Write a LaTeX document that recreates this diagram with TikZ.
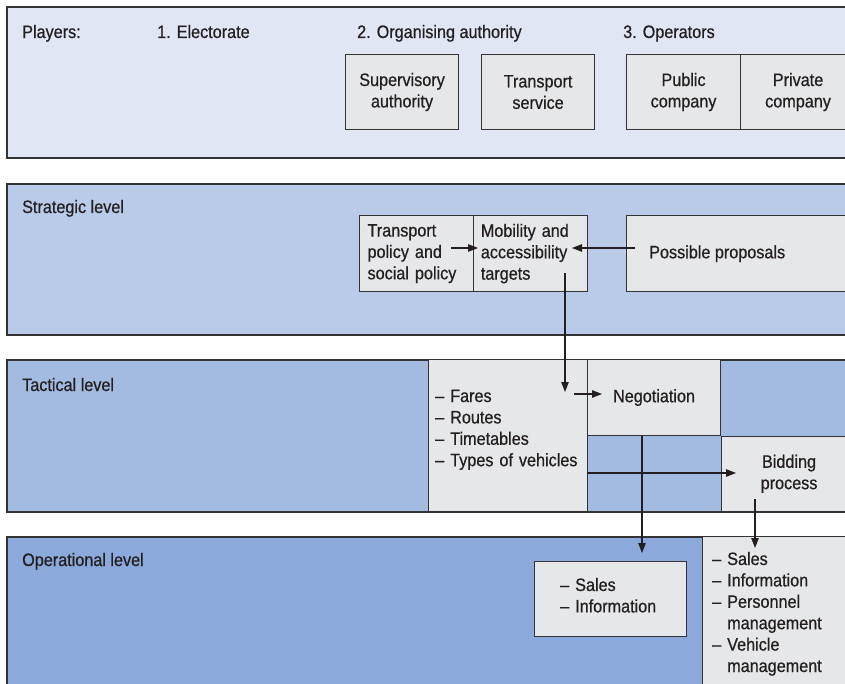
\documentclass[tikz,border=0pt]{standalone}
\usepackage{fontspec}
\setmainfont{Liberation Sans}[FakeStretch=0.9,FakeBold=0.6]
\usetikzlibrary{arrows.meta}
\definecolor{bandA}{HTML}{E0E6F4}
\definecolor{bandB}{HTML}{BACBEA}
\definecolor{bandC}{HTML}{A3BAE1}
\definecolor{bandD}{HTML}{8BA9DA}
\definecolor{boxgray}{HTML}{E6E7E9}
\definecolor{ink}{HTML}{231F20}
\definecolor{edge}{HTML}{333333}
\tikzset{
  band/.style={draw=edge, line width=2pt, anchor=north west, inner sep=0pt},
  gbox/.style={draw=edge, line width=1.1pt, fill=boxgray, anchor=north west, inner sep=0pt, text=ink},
  lbl/.style={anchor=base west, inner sep=0pt, text=ink},
  arr/.style={draw=ink, line width=1.2pt, -{Triangle[length=10pt,width=7.5pt]}},
}
\begin{document}
\begin{tikzpicture}[x=1pt, y=-1pt, font=\fontsize{18}{21.4}\selectfont]
\useasboundingbox (0,0) rectangle (845,684);

% ---------- Players ----------
\node[band, fill=bandA, minimum width=846pt, minimum height=151pt] (players) at (6,6) {};
\node[lbl] (plabel) at (22,38) {Players:};
\node[lbl] (elect) at (157,38) {1. Electorate};
\node[lbl] (org) at (357,38) {2. Organising authority};
\node[lbl] (ops) at (623,38) {3. Operators};
\node[gbox, minimum width=113pt, minimum height=75pt, align=center] (sup) at (345,54) {Supervisory\\authority};
\node[gbox, minimum width=113pt, minimum height=75pt, align=center] (trs) at (481,54) {Transport\\service};
\node[gbox, minimum width=114pt, minimum height=75pt, align=center] (pub) at (626,54) {Public\\company};
\node[gbox, minimum width=115pt, minimum height=75pt, align=center] (pri) at (740,54) {Private\\company};

% ---------- Strategic ----------
\node[band, fill=bandB, minimum width=846pt, minimum height=151pt] (strat) at (6,183) {};
\node[lbl] (slabel) at (22,213) {Strategic level};
\node[gbox, minimum width=114pt, minimum height=75.5pt, text width=98pt, inner xsep=8pt, align=left] (tp) at (359,215.3) {Transport\\policy and\\social policy};
\node[gbox, minimum width=113.5pt, minimum height=75.5pt, text width=99.5pt, inner xsep=7pt, align=left] (mob) at (473.3,215.3) {Mobility and\\accessibility\\targets};
\node[gbox, minimum width=230pt, minimum height=75.5pt] (pp) at (626,215.3) {};
\node[lbl] (pptext) at (649,258.3) {Possible proposals};

% ---------- Tactical ----------
\node[band, fill=bandC, minimum width=846pt, minimum height=151.5pt] (tact) at (6,359) {};
\node[lbl] (tlabel) at (22,391) {Tactical level};
\node[gbox, minimum width=159pt, minimum height=151.5pt] (fares) at (428,359) {};
\node[lbl, text width=150pt, align=left] (farestext) at (435,402) {– Fares\\– Routes\\– Timetables\\– Types of vehicles};
\node[gbox, minimum width=133pt, minimum height=76pt] (neg) at (587,359) {Negotiation};
\node[gbox, minimum width=135pt, minimum height=74.5pt, align=center] (bid) at (721,436) {Bidding\\process};

% ---------- Operational ----------
\node[band, fill=bandD, minimum width=846pt, minimum height=160pt] (oper) at (6,536) {};
\node[lbl] (olabel) at (22,566) {Operational level};
\node[gbox, minimum width=152pt, minimum height=75pt] (sales) at (534,561) {};
\node[lbl, text width=110pt, align=left] (salestext) at (560,591) {– Sales\\– Information};
\node[gbox, minimum width=160pt, minimum height=160pt] (opbox) at (702,536) {};
\node[lbl, text width=140pt, align=left] (optext) at (712,565) {– Sales\\– Information\\– Personnel\\\phantom{– }management\\– Vehicle\\\phantom{– }management};

% ---------- connectors ----------
\coordinate (tpA) at (451,248);
\coordinate (mobA) at (478,248);
\coordinate (ppA) at (635,248);
\coordinate (mobB) at (572,248);
\coordinate (mobC) at (565,273);
\coordinate (faresA) at (565,392);
\coordinate (faresB) at (574,394);
\coordinate (negA) at (602,394);
\coordinate (faresC) at (587,473);
\coordinate (bidA) at (736,473);
\coordinate (negB) at (642,436);
\coordinate (salesA) at (642,553);
\coordinate (bidB) at (755,499);
\coordinate (opA) at (755,548);

\draw[arr] (tpA) -- (mobA);
\draw[arr] (ppA) -- (mobB);
\draw[arr] (mobC) -- (faresA);
\draw[arr] (faresB) -- (negA);
\draw[arr] (faresC) -- (bidA);
\draw[arr] (negB) -- (salesA);
\draw[arr] (bidB) -- (opA);
\end{tikzpicture}
\end{document}
